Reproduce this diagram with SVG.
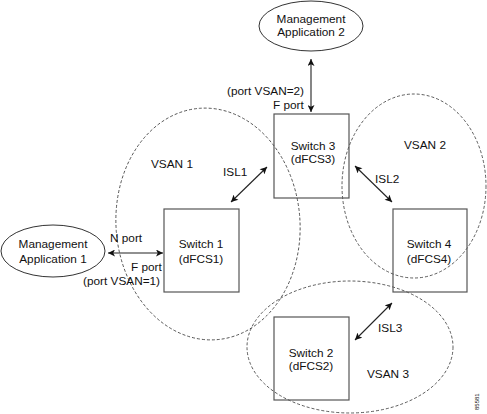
<svg xmlns="http://www.w3.org/2000/svg" width="487" height="414" viewBox="0 0 487 414">
<defs>
<marker id="ah" viewBox="0 0 10 10" refX="10" refY="5" markerWidth="8" markerHeight="7" markerUnits="userSpaceOnUse" orient="auto-start-reverse">
<path d="M0,0 L10,5 L0,10 L2.5,5 Z" fill="#111"/>
</marker>
</defs>
<style>
text{font-family:"Liberation Sans",Arial,sans-serif;font-size:11.8px;fill:#111}
.c{text-anchor:middle}
.box{fill:none;stroke:#555;stroke-width:1.2}
.ell{fill:#fff;stroke:#333;stroke-width:1}
.vsan{fill:none;stroke:#333;stroke-width:0.8;stroke-dasharray:3,2}
.link{stroke:#222;stroke-width:1.1;fill:none;marker-start:url(#ah);marker-end:url(#ah)}
</style>
<rect width="487" height="414" fill="#fff"/>
<g id="vsans">
<ellipse class="vsan" cx="208" cy="224" rx="92" ry="116" transform="rotate(-4 208 224)"/>
<ellipse class="vsan" cx="414" cy="186" rx="72" ry="92"/>
<ellipse class="vsan" cx="350" cy="347" rx="103" ry="66"/>
<text x="151" y="168">VSAN 1</text>
<text x="404" y="149">VSAN 2</text>
<text x="367" y="378">VSAN 3</text>
</g>
<g id="switch3"><rect class="box" x="274" y="114" width="75" height="84"/><text class="c" x="313" y="150">Switch 3</text><text class="c" x="313" y="163">(dFCS3)</text></g>
<g id="switch1"><rect class="box" x="164" y="209" width="75" height="83"/><text class="c" x="201" y="248">Switch 1</text><text class="c" x="201" y="263">(dFCS1)</text></g>
<g id="switch4"><rect class="box" x="393" y="209" width="74" height="83"/><text class="c" x="429" y="248">Switch 4</text><text class="c" x="429" y="263">(dFCS4)</text></g>
<g id="switch2"><rect class="box" x="274" y="317" width="75" height="83"/><text class="c" x="311" y="357">Switch 2</text><text class="c" x="311" y="370">(dFCS2)</text></g>
<g id="mgmt2"><ellipse class="ell" cx="311" cy="26" rx="52" ry="25"/><text class="c" x="311" y="23">Management</text><text class="c" x="311" y="36">Application 2</text></g>
<g id="mgmt1"><ellipse class="ell" cx="53" cy="251" rx="52" ry="26"/><text class="c" x="53" y="248">Management</text><text class="c" x="53" y="263">Application 1</text></g>
<g id="connectors">
<line class="link" x1="311" y1="59" x2="311" y2="112"/>
<line class="link" x1="108" y1="253" x2="163" y2="253"/>
<line class="link" x1="267" y1="167" x2="231" y2="202"/>
<line class="link" x1="355" y1="166" x2="392" y2="202"/>
<line class="link" x1="392" y1="303" x2="355" y2="340"/>
</g>
<g id="labels">
<text x="227" y="95">(port VSAN=2)</text>
<text x="273" y="109">F port</text>
<text x="223" y="176">ISL1</text>
<text x="375" y="183">ISL2</text>
<text x="378" y="332">ISL3</text>
<text x="110" y="242">N port</text>
<text x="131" y="271">F port</text>
<text x="83" y="285">(port VSAN=1)</text>
<text transform="translate(479,410) rotate(-90)" style="font-size:6px">85581</text>
</g>
</svg>
